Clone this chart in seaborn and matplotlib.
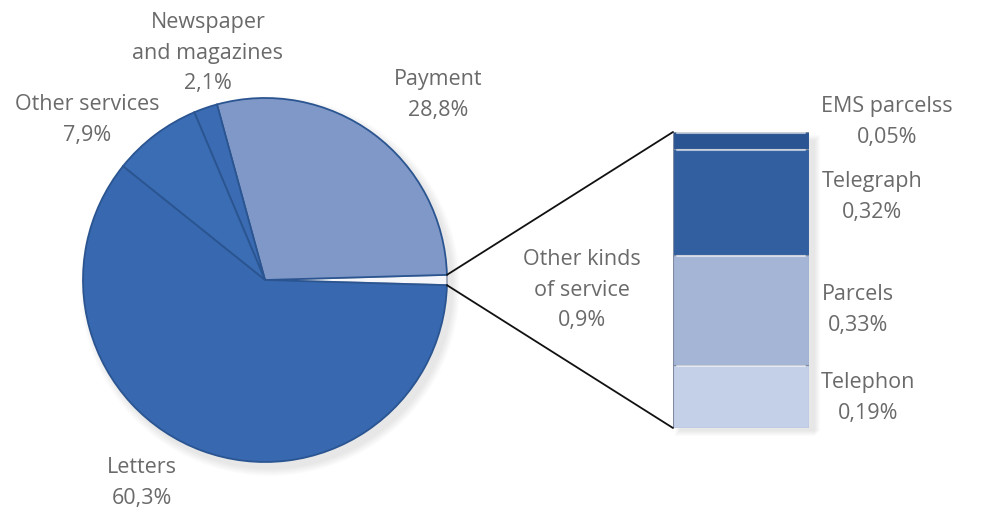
import numpy as np
import matplotlib
matplotlib.use("Agg")
import matplotlib.pyplot as plt
from matplotlib.patches import ConnectionPatch, Circle, Rectangle
import seaborn as sns

# pie: share of revenue by kind of service
pie_labels = ["Other kinds\nof service", "Payment", "Newspaper\nand magazines",
              "Other services", "Letters"]
pie_values = [0.9, 28.8, 2.1, 7.9, 60.3]
pie_text = ["0,9%", "28,8%", "2,1%", "7,9%", "60,3%"]

# bar: breakdown of "other kinds of service" (bottom to top)
bar_labels = ["Telephon", "Parcels", "Telegraph", "EMS parcelss"]
bar_values = [0.19, 0.33, 0.32, 0.05]
bar_text = ["0,19%", "0,33%", "0,32%", "0,05%"]

sns.set_theme(style="white")
plt.rcParams['font.family'] = ['Open Sans', 'DejaVu Sans']

W, H = 1006, 509
fig = plt.figure(figsize=(W / 100, H / 100), dpi=100)

# main axes in pixel units (y measured from the bottom)
ax = fig.add_axes([0, 0, 1, 1])

cx, cy, r = 265, H - 280, 182

# soft shadow under the pie
for i in range(8):
    ax.add_patch(Circle((cx + 5, cy - 6), r + 8 - i, color="#000000",
                        alpha=0.012, lw=0, zorder=0))

pie_colors = ["#f4f6fa", "#7f98c8", "#3b6cb3", "#3b6db5", "#3768b0"]
start = -pie_values[0] * 3.6 / 2
wedges, _ = ax.pie(pie_values, colors=pie_colors, startangle=start,
                   counterclock=True, center=(cx, cy), radius=r,
                   wedgeprops=dict(edgecolor="#2b5591", linewidth=1.3),
                   frame=True)
wedges[0].set_edgecolor("#9aa3b5")
ax.set_xlim(0, W)
ax.set_ylim(0, H)
ax.set_aspect("equal")
ax.axis("off")

txt = dict(color="#6a6a6a", fontsize=15.5, ha="center", va="center",
           linespacing=1.6)

pie_pos = [(582, 290), (438, 95), (208, 53), (87, 120), (142, 483)]
for lab, val, (x, y) in zip(pie_labels, pie_text, pie_pos):
    ax.text(x, H - y, f"{lab}\n{val}", **txt)

# stacked bar
bx0, bx1, by0, by1 = 673, 809, 428, 132
# shadow behind the bar
for i in range(6):
    ax.add_patch(Rectangle((bx0 + 2 + i, H - by0 - 8 + i),
                           bx1 - bx0 + 4, by0 - by1, color="#000000",
                           alpha=0.015, lw=0, zorder=0))
bax = fig.add_axes([bx0 / W, (H - by0) / H, (bx1 - bx0) / W, (by0 - by1) / H])
bar_colors = ["#c3d0e7", "#a4b5d6", "#315f9f", "#2b5592"]
bottom = 0
for v, c in zip(bar_values, bar_colors):
    bax.bar(0, v, bottom=bottom, width=1, color=c, edgecolor="#7f8ba0",
            linewidth=0.8)
    # light bevel along the top of each block
    bax.plot([-0.47, 0.47], [bottom + v - 0.004] * 2, color="white",
             alpha=0.6, lw=1.5, solid_capstyle="round")
    bottom += v
total = sum(bar_values)
bax.set_xlim(-0.5, 0.5)
bax.set_ylim(0, total)
bax.axis("off")

bar_pos = [(868, 398), (858, 310), (872, 197), (887, 122)]
for lab, val, (x, y) in zip(bar_labels, bar_text, bar_pos):
    ax.text(x, H - y, f"{lab}\n{val}", **txt)

# connector lines from the small slice to the bar
theta = np.deg2rad(pie_values[0] * 3.6 / 2)
for sign, yb in [(1, total), (-1, 0)]:
    xa = cx + r * np.cos(theta)
    ya = cy + sign * r * np.sin(theta)
    con = ConnectionPatch(xyA=(xa, ya), coordsA=ax.transData,
                          xyB=(-0.5, yb), coordsB=bax.transData,
                          color="#111111", linewidth=1.3)
    fig.add_artist(con)

fig.savefig("out.png", dpi=100, facecolor="white")
